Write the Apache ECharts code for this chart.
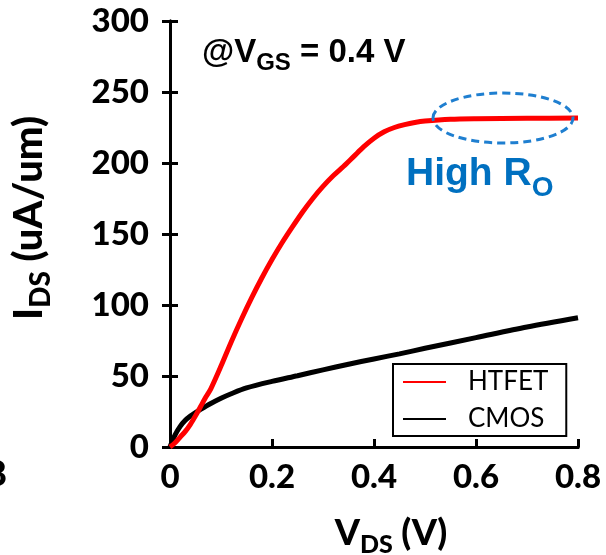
<!DOCTYPE html>
<html>
<head>
<meta charset="utf-8">
<script src="https://cdn.jsdelivr.net/npm/echarts@6/dist/echarts.min.js"></script>
<style>html,body{margin:0;padding:0;background:#fff}#c{width:606px;height:555px}</style>
</head>
<body>
<div id="c"></div>
<script>
var seriesNames = ['HTFET', 'CMOS'];
var xTicks = [0, 0.2, 0.4, 0.6, 0.8];
var yTicks = [0, 50, 100, 150, 200, 250, 300];
var vdsHtfet = [0, 0.01, 0.02, 0.03, 0.04, 0.05, 0.06, 0.07, 0.08, 0.1, 0.12, 0.14, 0.16, 0.18, 0.2, 0.22, 0.24, 0.26, 0.28, 0.3, 0.32, 0.34, 0.36, 0.38, 0.4, 0.42, 0.44, 0.46, 0.48, 0.5, 0.55, 0.6, 0.7, 0.8];
var idsHtfet = [0, 3, 7, 11, 16, 22, 28.5, 35, 41, 57, 74, 90, 105, 119, 132, 144, 155, 165.5, 175, 183.5, 191, 197.5, 204.5, 211.5, 217.5, 222, 225, 227, 228.5, 229.5, 230.8, 231.2, 231.5, 231.7];
var vdsCmos = [0, 0.01, 0.02, 0.03, 0.04, 0.05, 0.06, 0.08, 0.1, 0.12, 0.15, 0.2, 0.25, 0.3, 0.35, 0.4, 0.45, 0.5, 0.6, 0.7, 0.8];
var idsCmos = [0, 8.5, 14.5, 18.8, 21.8, 24.3, 26.5, 30.6, 34.3, 37.5, 41.6, 46.2, 50.2, 54.3, 58.3, 62, 65.6, 69.5, 77, 84.5, 91];

function pairs(xs, ys) { return xs.map(function (x, i) { return [x, ys[i]]; }); }

var chart = echarts.init(document.getElementById('c'), null, {renderer: 'canvas'});
var axisLine = {show: true, lineStyle: {color: '#000', width: 3}};
var tickFont = {color: '#000', fontFamily: 'Lato', fontWeight: 900, fontSize: 33};
chart.setOption({
  animation: false,
  backgroundColor: '#fff',
  grid: {left: 170, right: 28, top: 21, bottom: 108},
  xAxis: [{
    type: 'value', min: xTicks[0], max: xTicks[xTicks.length - 1], interval: 0.2,
    axisLine: axisLine, splitLine: {show: false},
    axisTick: {inside: true, length: 8, lineStyle: {color: '#000', width: 3}},
    axisLabel: Object.assign({margin: 14, formatter: function (v) { return v === 0 ? '0' : v.toFixed(1); }}, tickFont)
  }, {
    type: 'value', position: 'top', min: 0, max: 0.8, interval: 0.2,
    axisLine: axisLine, axisTick: {show: false}, axisLabel: {show: false}, splitLine: {show: false}
  }],
  yAxis: [{
    type: 'value', min: yTicks[0], max: yTicks[yTicks.length - 1], interval: 50,
    axisLine: axisLine, splitLine: {show: false},
    axisTick: {inside: true, length: 8, lineStyle: {color: '#000', width: 3}},
    axisLabel: Object.assign({margin: 21}, tickFont)
  }, {
    type: 'value', position: 'right', min: 0, max: 300, interval: 50,
    axisLine: axisLine, splitLine: {show: false},
    axisTick: {inside: true, length: 8, lineStyle: {color: '#000', width: 3}},
    axisLabel: {show: false}
  }],
  legend: {
    orient: 'vertical', left: 393, top: 364,
    padding: [5, 18, 4, 9], itemWidth: 43, itemHeight: 20, itemGap: 11,
    borderColor: '#000', borderWidth: 2, backgroundColor: '#fff',
    itemStyle: {opacity: 0},
    textStyle: {fontFamily: 'Lato', fontSize: 26, color: '#000', padding: [0, 0, 0, 17]},
    data: seriesNames
  },
  series: [{
    name: seriesNames[0], type: 'line', data: pairs(vdsHtfet, idsHtfet),
    smooth: 0.3, showSymbol: false, symbol: 'none',
    lineStyle: {color: '#ff0000', width: 5}, itemStyle: {color: '#ff0000'}, z: 3
  }, {
    name: seriesNames[1], type: 'line', data: pairs(vdsCmos, idsCmos),
    smooth: 0.3, showSymbol: false, symbol: 'none',
    lineStyle: {color: '#000', width: 5}, itemStyle: {color: '#000'}, z: 2
  }],
  graphic: [
    {type: 'ellipse', shape: {cx: 503, cy: 118, rx: 70, ry: 25}, z: 10,
     style: {fill: 'none', stroke: '#1f7fd0', lineWidth: 3, lineDash: [8, 5]}},
    {type: 'text', left: 406, top: 155, z: 10,
     style: {text: '{a|High R}{b|O}', rich: {
       a: {fontFamily: 'Liberation Sans', fontWeight: 'bold', fontSize: 39, fill: '#0070C0', verticalAlign: 'bottom', padding: [0, 0, 8, 0]},
       b: {fontFamily: 'Liberation Sans', fontWeight: 'bold', fontSize: 28, fill: '#0070C0', verticalAlign: 'bottom'}
     }}},
    {type: 'text', left: 202, top: 36, z: 10,
     style: {text: '{a|@V}{b|GS}{a| = 0.4 V}', rich: {
       a: {fontFamily: 'Liberation Sans', fontWeight: 'bold', fontSize: 33, fill: '#000', verticalAlign: 'bottom', padding: [0, 0, 6, 0]},
       b: {fontFamily: 'Liberation Sans', fontWeight: 'bold', fontSize: 24, fill: '#000', verticalAlign: 'bottom'}
     }}},
    {type: 'text', x: 391, y: 536, z: 10,
     style: {text: '{a|V}{b|DS}{a| (V)}', align: 'center', verticalAlign: 'middle', rich: {
       a: {fontFamily: 'Lato', fontWeight: 900, fontSize: 36, fill: '#000', verticalAlign: 'bottom', padding: [0, 0, 6, 0]},
       b: {fontFamily: 'Lato', fontWeight: 900, fontSize: 25, fill: '#000', verticalAlign: 'bottom'}
     }}},
    {type: 'text', x: 32, y: 218, rotation: Math.PI / 2, z: 10,
     style: {text: '{a|I}{b|DS}{a| (uA/um)}', align: 'center', verticalAlign: 'middle', rich: {
       a: {fontFamily: 'Lato', fontWeight: 900, fontSize: 40, fill: '#000', verticalAlign: 'bottom', padding: [0, 0, 6, 0]},
       b: {fontFamily: 'Lato', fontWeight: 900, fontSize: 28, fill: '#000', verticalAlign: 'bottom'}
     }}},
    {type: 'text', x: 7, y: 474, z: 10,
     style: {text: '8', align: 'right', verticalAlign: 'middle', fontFamily: 'Lato', fontWeight: 900, fontSize: 36, fill: '#000'}}
  ]
});
</script>
</body>
</html>
